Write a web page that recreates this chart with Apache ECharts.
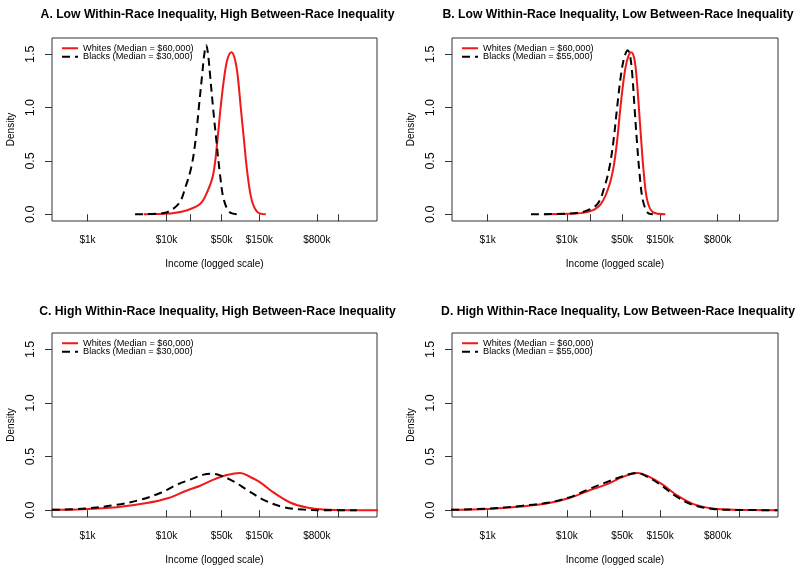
<!DOCTYPE html>
<html><head><meta charset="utf-8">
<script src="https://cdn.jsdelivr.net/npm/echarts@6/dist/echarts.min.js"></script>
<style>html,body{margin:0;padding:0;background:#fff}#c{width:800px;height:569px}</style>
</head><body><div id="c"></div>
<script>
// ---------- data ----------
const panelTitles = [
  'A. Low Within-Race Inequality, High Between-Race Inequality',
  'B. Low Within-Race Inequality, Low Between-Race Inequality',
  'C. High Within-Race Inequality, High Between-Race Inequality',
  'D. High Within-Race Inequality, Low Between-Race Inequality'
];
const whiteNames = ['Whites (Median = $60,000)','Whites (Median = $60,000)','Whites (Median = $60,000)','Whites (Median = $60,000)'];
const blackNames = ['Blacks (Median = $30,000)','Blacks (Median = $55,000)','Blacks (Median = $30,000)','Blacks (Median = $55,000)'];

// Panel A
const aWhiteIncome  = [5150, 11250, 18300, 27000, 33500, 39200, 44100, 48500, 54600, 60000, 66400, 72500, 79100, 87100, 95900, 105900, 120200, 141900, 181100];
const aWhiteDensity = [0, 0.006, 0.037, 0.10, 0.225, 0.38, 0.69, 1.005, 1.32, 1.47, 1.52, 1.47, 1.32, 1.005, 0.69, 0.38, 0.13, 0.02, 0];
const aBlackIncome  = [4000, 9250, 14300, 17400, 20600, 23300, 25700, 28400, 30100, 31900, 33600, 35500, 38800, 42800, 47500, 53500, 65000, 83000];
const aBlackDensity = [0, 0.012, 0.10, 0.256, 0.44, 0.69, 1.005, 1.32, 1.50, 1.584, 1.50, 1.32, 1.005, 0.69, 0.38, 0.13, 0.012, 0];
// Panel B
const bWhiteIncome  = [5188, 13062, 20230, 27102, 33810, 38815, 43152, 47534, 53456, 59000, 65013, 70500, 75162, 81096, 86896, 93756, 103514, 121899, 174985];
const bWhiteDensity = [0, 0.006, 0.031, 0.10, 0.256, 0.44, 0.69, 1.005, 1.32, 1.47, 1.52, 1.47, 1.32, 1.005, 0.69, 0.38, 0.13, 0.02, 0];
const bBlackIncome  = [3524, 10764, 17498, 24547, 29854, 34514, 38815, 43152, 48529, 53500, 58884, 63000, 66834, 71450, 76560, 82794, 91201, 105439, 121899];
const bBlackDensity = [0, 0.006, 0.031, 0.10, 0.256, 0.44, 0.69, 1.005, 1.32, 1.48, 1.537, 1.48, 1.32, 1.005, 0.69, 0.38, 0.13, 0.012, 0];
// Panel C
const cWhiteIncome  = [354, 889, 2355, 5649, 10593, 18113, 26730, 39355, 58210, 85704, 114551, 153462, 225943, 368129, 598412, 970510, 2113489, 4819954];
const cWhiteDensity = [0.003, 0.009, 0.028, 0.066, 0.113, 0.184, 0.228, 0.285, 0.329, 0.348, 0.31, 0.26, 0.166, 0.072, 0.025, 0.006, 0, 0];
const cBlackIncome  = [354, 889, 2355, 4645, 8318, 13552, 19953, 29376, 35727, 47863, 70469, 104232, 169044, 302691, 542001, 970510, 2570396];
const cBlackDensity = [0.003, 0.015, 0.05, 0.097, 0.16, 0.238, 0.285, 0.332, 0.341, 0.325, 0.269, 0.191, 0.097, 0.028, 0.006, 0, 0];
// Panel D
const dWhiteIncome  = [346, 1038, 2742, 5970, 10690, 19143, 31189, 50582, 78343, 110154, 162181, 239883, 389045, 696627, 1247384, 4570882];
const dWhiteDensity = [0.003, 0.012, 0.034, 0.066, 0.113, 0.184, 0.238, 0.31, 0.348, 0.31, 0.238, 0.144, 0.059, 0.015, 0.003, 0];
const dBlackIncome  = [346, 1038, 2742, 5970, 10690, 19143, 31189, 50582, 75162, 110154, 162181, 239883, 389045, 696627, 1247384, 4570882];
const dBlackDensity = [0.003, 0.015, 0.041, 0.072, 0.119, 0.197, 0.26, 0.316, 0.348, 0.301, 0.222, 0.128, 0.05, 0.012, 0.003, 0];

const xTickValues  = [1000, 10000, 20000, 50000, 150000, 800000, 1500000];
const xLabelValues = [1000, 10000, 50000, 150000, 800000];
const xLabelText   = ['$1k', '$10k', '$50k', '$150k', '$800k'];
const yTickValues  = [0, 0.5, 1.0, 1.5];
const xLimits = [355, 4630000];   // axis limits in dollars (log axis)
const yLimits = [-0.0636, 1.653];

const xAxisTitle = 'Income (logged scale)';
const yAxisTitle = 'Density';

// ---------- layout ----------
const FONT = 'Liberation Sans, Arial, Helvetica, sans-serif';
const grids = [
  {left: 52, top: 38, width: 325, height: 183},
  {left: 452, top: 38, width: 326, height: 183},
  {left: 52, top: 333, width: 325, height: 184},
  {left: 452, top: 333, width: 326, height: 184}
];
const panelData = [
  [aWhiteIncome, aWhiteDensity, aBlackIncome, aBlackDensity],
  [bWhiteIncome, bWhiteDensity, bBlackIncome, bBlackDensity],
  [cWhiteIncome, cWhiteDensity, cBlackIncome, cBlackDensity],
  [dWhiteIncome, dWhiteDensity, dBlackIncome, dBlackDensity]
];
const RED = '#f01818';
const lg = Math.log10;
const ICON_SOLID = 'path://M0,0h16v2h-16z';
const ICON_DASH  = 'path://M0,0h8v2h-8z M13,0h3v2h-3z';

function xLabelFormatter(v) {
  for (let i = 0; i < xLabelValues.length; i++) {
    if (Math.abs(lg(xLabelValues[i]) - v) < 1e-6) return xLabelText[i];
  }
  return '';
}

const option = {
  animation: false,
  backgroundColor: '#fff',
  title: grids.map((g, i) => ({
    text: panelTitles[i],
    left: g.left + g.width / 2 - 2,
    top: i < 2 ? 4 : 301,
    textAlign: 'center',
    textStyle: {fontFamily: FONT, fontWeight: 'bold', fontSize: 12.2, color: '#000'}
  })),
  legend: grids.map((g, i) => ({
    data: [
      {name: whiteNames[i], icon: ICON_SOLID, itemStyle: {color: RED}},
      {name: blackNames[i], icon: ICON_DASH, itemStyle: {color: '#000'}}
    ],
    orient: 'vertical',
    left: g.left + 10,
    top: g.top + 5.5,
    itemWidth: 16,
    itemHeight: 2,
    itemGap: -1.1,
    padding: 0,
    selectedMode: false,
    textStyle: {fontFamily: FONT, fontSize: 9.2, color: '#000', padding: [0, 0, 0, 0], lineHeight: 9.5}
  })),
  grid: grids.map(g => Object.assign({show: true, borderColor: '#333', borderWidth: 1, containLabel: false, outerBoundsMode: 'none'}, g)),
  xAxis: grids.map((g, i) => ({
    type: 'value', gridIndex: i, min: lg(xLimits[0]), max: lg(xLimits[1]),
    axisLine: {show: false}, splitLine: {show: false},
    axisTick: {show: true, inside: false, length: 7, customValues: xTickValues.map(lg), lineStyle: {color: '#333', width: 1}},
    axisLabel: {customValues: xLabelValues.map(lg), formatter: xLabelFormatter, margin: 14, color: '#000', fontSize: 10, fontFamily: FONT},
    name: xAxisTitle, nameLocation: 'middle', nameGap: 38,
    nameTextStyle: {fontFamily: FONT, fontSize: 10, color: '#000'}
  })),
  yAxis: grids.map((g, i) => ({
    type: 'value', gridIndex: i, min: yLimits[0], max: yLimits[1],
    axisLine: {show: false}, splitLine: {show: false},
    axisTick: {show: true, inside: false, length: 7, customValues: yTickValues, lineStyle: {color: '#333', width: 1}},
    axisLabel: {customValues: yTickValues, formatter: v => v.toFixed(1), rotate: 90, margin: 15, color: '#000', fontSize: 12.5, fontFamily: FONT},
    name: yAxisTitle, nameLocation: 'middle', nameGap: 36, nameRotate: 90,
    nameTextStyle: {fontFamily: FONT, fontSize: 10, color: '#000'}
  })),
  series: []
};

panelData.forEach((p, i) => {
  option.series.push({
    type: 'line', name: whiteNames[i], xAxisIndex: i, yAxisIndex: i,
    data: p[0].map((x, k) => [lg(x), p[1][k]]),
    symbol: 'none', smooth: 0.35, clip: true,
    lineStyle: {color: RED, width: 2}, itemStyle: {color: RED}, z: 2
  });
  option.series.push({
    type: 'line', name: blackNames[i], xAxisIndex: i, yAxisIndex: i,
    data: p[2].map((x, k) => [lg(x), p[3][k]]),
    symbol: 'none', smooth: 0.35, clip: true,
    lineStyle: {color: '#000', width: 2, type: [8, 5]}, itemStyle: {color: '#000'}, z: 3
  });
});

const chart = echarts.init(document.getElementById('c'), null, {renderer: 'canvas'});
chart.setOption(option);
</script>
</body></html>
